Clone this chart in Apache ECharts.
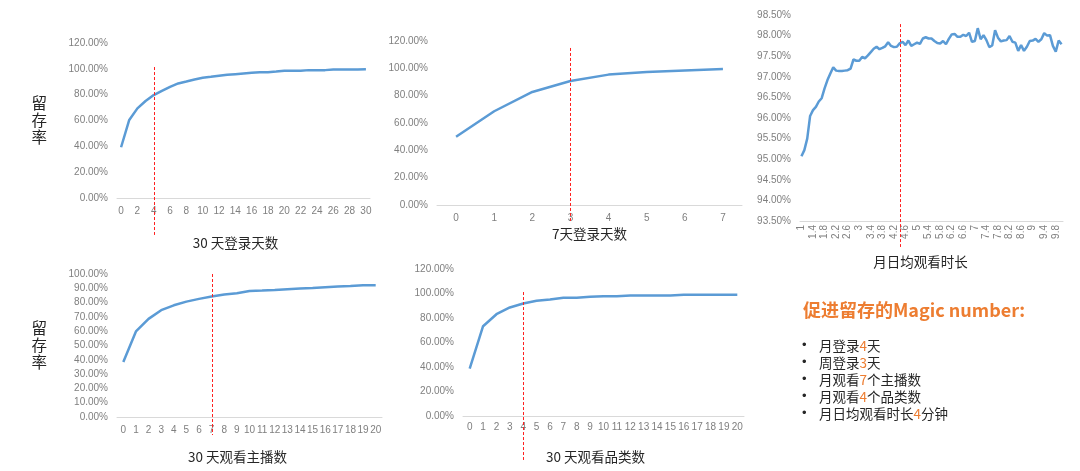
<!DOCTYPE html>
<html><head><meta charset="utf-8">
<script src="https://cdn.jsdelivr.net/npm/echarts@6/dist/echarts.min.js"></script>
<style>html,body{margin:0;padding:0;background:#fff}#c{width:1080px;height:471px}</style>
</head><body><div id="c"></div>
<script>
// ---------------- DATA ----------------
const login30Days = ['0','1','2','3','4','5','6','7','8','9','10','11','12','13','14','15','16','17','18','19','20','21','22','23','24','25','26','27','28','29','30'];
const login30Retention = [39.3,60.4,69.4,75.1,79.7,83.0,86.1,88.7,90.2,91.8,93.1,93.8,94.6,95.4,95.9,96.4,96.9,97.4,97.4,97.9,98.5,98.5,98.5,99.0,99.0,99.0,99.5,99.5,99.5,99.5,99.7];

const login7Days = ['0','1','2','3','4','5','6','7'];
const login7Retention = [50.0,68.6,82.7,90.7,95.4,97.3,98.5,99.5];

const watchMinutes = ['1','1.1','1.2','1.3','1.4','1.5','1.6','1.7','1.8','1.9',
  '2','2.1','2.2','2.3','2.4','2.5','2.6','2.7','2.8','2.9',
  '3','3.1','3.2','3.3','3.4','3.5','3.6','3.7','3.8','3.9',
  '4','4.1','4.2','4.3','4.4','4.5','4.6','4.7','4.8','4.9',
  '5','5.1','5.2','5.3','5.4','5.5','5.6','5.7','5.8','5.9',
  '6','6.1','6.2','6.3','6.4','6.5','6.6','6.7','6.8','6.9',
  '7','7.1','7.2','7.3','7.4','7.5','7.6','7.7','7.8','7.9',
  '8','8.1','8.2','8.3','8.4','8.5','8.6','8.7','8.8','8.9',
  '9','9.1','9.2','9.3','9.4','9.5','9.6','9.7','9.8','9.9','10'];
const watchMinutesRetention = [95.07,95.22,95.50,96.05,96.19,96.27,96.40,96.48,96.72,96.92,
  97.08,97.23,97.15,97.14,97.14,97.15,97.16,97.20,97.42,97.39,
  97.39,97.48,97.45,97.52,97.60,97.68,97.73,97.67,97.70,97.74,
  97.84,97.75,97.72,97.73,97.81,97.85,97.77,97.88,97.75,97.79,
  97.83,97.80,97.93,97.96,97.93,97.93,97.87,97.82,97.81,97.87,
  97.79,97.92,98.03,98.04,97.97,97.97,98.02,97.99,98.07,97.85,
  97.87,98.18,97.91,98.01,97.89,97.72,97.76,98.13,97.95,97.86,
  97.88,97.89,97.99,97.85,97.83,97.63,97.77,97.63,97.73,97.87,
  97.88,97.92,97.85,97.91,98.06,98.00,98.01,97.75,97.61,97.88,97.79];

const anchorCounts = ['0','1','2','3','4','5','6','7','8','9','10','11','12','13','14','15','16','17','18','19','20'];
const anchorRetention = [38.4,59.8,68.6,74.7,78.1,80.7,82.6,84.2,85.6,86.5,88.1,88.4,88.8,89.3,89.8,90.2,90.7,91.2,91.6,92.1,92.1];

const categoryCounts = ['0','1','2','3','4','5','6','7','8','9','10','11','12','13','14','15','16','17','18','19','20'];
const categoryRetention = [38.7,73.3,83.1,88.6,91.8,94.0,95.1,96.5,96.5,97.3,97.8,97.8,98.4,98.4,98.4,98.4,98.9,98.9,98.9,98.9,98.9];

const axisNames = ['30 天登录天数','7天登录天数','月日均观看时长','30 天观看主播数','30 天观看品类数'];
const yAxisName = '留存率';

// magic-number marker: category and value extent of the dashed line
const markerCategories = ['4','3','4.4','7','4'];
const markerTops = [101.4, 114.9, 98.28, 100.0, 101.2];
const markerBottoms = [-28.6, -12.4, 92.87, -12.6, -35.9];

const noteTitle = '促进留存的Magic number:';
const noteItems = [['月登录','4','天'],['周登录','3','天'],['月观看','7','个主播数'],['月观看','4','个品类数'],['月日均观看时长','4','分钟']];

// ---------------- LAYOUT ----------------
const blue = '#5B9BD5';
const axisFont = '"Liberation Sans", Arial, sans-serif';
const cjkFont = '"Noto Sans CJK SC", sans-serif';

const panels = [
  {cats: login30Days, vals: login30Retention, yMin:0, yMax:120, yInt:20,
   grid:{left:117, top:43, width:253, height:155}, labelInterval:1, labelMargin:8, nameGap:38, namePad:[0,16,0,0], showYName:true},
  {cats: login7Days, vals: login7Retention, yMin:0, yMax:120, yInt:20,
   grid:{left:437, top:41, width:305, height:164}, labelInterval:0, labelMargin:8, nameGap:22, namePad:[0,0,0,0], showYName:false},
  {cats: watchMinutes, vals: watchMinutesRetention, yMin:93.5, yMax:98.5, yInt:0.5,
   grid:{left:800, top:15, width:263, height:206}, labelInterval:3, labelMargin:4, rotate:90, nameGap:34, namePad:[0,22,0,0], showYName:false},
  {cats: anchorCounts, vals: anchorRetention, yMin:0, yMax:100, yInt:10,
   grid:{left:117, top:274, width:265, height:143}, labelInterval:0, labelMargin:8, nameGap:33, namePad:[0,24,0,0], showYName:true},
  {cats: categoryCounts, vals: categoryRetention, yMin:0, yMax:120, yInt:20,
   grid:{left:463, top:269, width:281, height:147}, labelInterval:0, labelMargin:6, nameGap:34, namePad:[0,16,0,0], showYName:false}
];

const chart = echarts.init(document.getElementById('c'), null, {renderer:'canvas'});

const option = {
  backgroundColor:'#ffffff',
  animation:false,
  grid: panels.map(p => Object.assign({containLabel:false}, p.grid)),
  xAxis: panels.map((p,i) => ({
    type:'category', gridIndex:i, data:p.cats, boundaryGap:true,
    axisLine:{lineStyle:{color:'#D9D9D9', width:1}},
    axisTick:{show:false},
    splitLine:{show:false},
    axisLabel:{interval:p.labelInterval, color:'#7f7f7f', fontSize:10, fontFamily:axisFont, margin:p.labelMargin, rotate:p.rotate||0},
    name:axisNames[i], nameLocation:'middle', nameGap:p.nameGap,
    nameTextStyle:{color:'#262626', fontSize:13.5, fontFamily:cjkFont, padding:p.namePad}
  })),
  yAxis: panels.map((p,i) => ({
    type:'value', gridIndex:i, min:p.yMin, max:p.yMax, interval:p.yInt,
    axisLine:{show:false}, axisTick:{show:false}, splitLine:{show:false},
    axisLabel:{formatter:v => v.toFixed(2)+'%', color:'#7f7f7f', fontSize:10, fontFamily:axisFont, margin:9},
    name: p.showYName ? yAxisName.split('').join('\n') : '',
    nameLocation:'middle', nameRotate:0, nameGap:70,
    nameTextStyle:{color:'#262626', fontSize:15.5, lineHeight:17, fontFamily:cjkFont}
  })),
  series: panels.map((p,i) => ({
    type:'line', xAxisIndex:i, yAxisIndex:i, data:p.vals,
    showSymbol:false, symbol:'none', silent:true,
    lineStyle:{color:blue, width:2.5}, itemStyle:{color:blue}
  }))
};
chart.setOption(option);

// dashed magic-number markers, positioned through the axes' own scales
const graphics = [];
panels.forEach((p,i) => {
  const idx = p.cats.indexOf(markerCategories[i]);
  const x = chart.convertToPixel({xAxisIndex:i}, idx);
  const y1 = chart.convertToPixel({yAxisIndex:i}, markerTops[i]);
  const y2 = chart.convertToPixel({yAxisIndex:i}, markerBottoms[i]);
  graphics.push({type:'line', shape:{x1:Math.round(x)+0.5, y1:y1, x2:Math.round(x)+0.5, y2:y2},
    style:{stroke:'#FF2020', lineWidth:1, lineDash:[3,2]}, z:10, silent:true});
});

graphics.push({type:'text', left:803, top:301, z:10,
  style:{text:noteTitle, fill:'#ED7D31', font:'bold 18px "Noto Sans CJK SC", sans-serif'}});

const richLines = noteItems.map(it => '{b|•}{t|'+it[0]+'}{o|'+it[1]+'}{t|'+it[2]+'}').join('\n');
graphics.push({type:'text', left:802, top:337, z:10,
  style:{text:richLines, lineHeight:17,
    rich:{
      b:{width:17, fontSize:13, fill:'#262626', fontFamily:axisFont, lineHeight:17},
      t:{fontSize:13.5, fill:'#262626', fontFamily:cjkFont, lineHeight:17},
      o:{fontSize:13.5, fill:'#ED7D31', fontFamily:cjkFont, lineHeight:17}
    }}});

chart.setOption({graphic:graphics});
</script>
</body></html>
